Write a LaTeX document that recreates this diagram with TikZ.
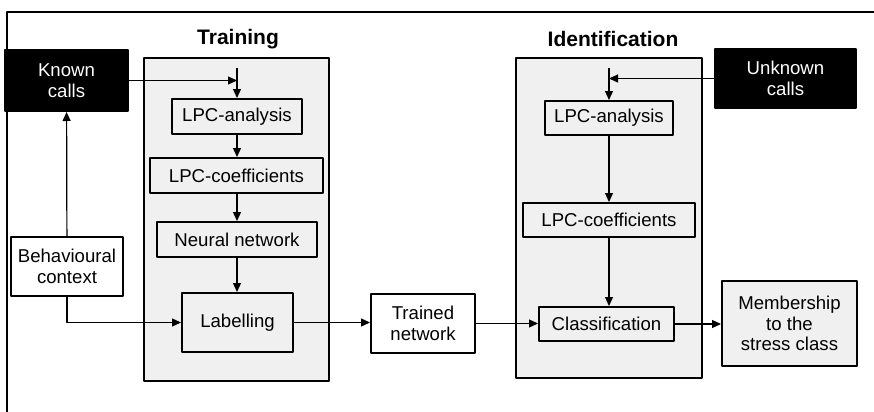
\documentclass[tikz,border=0pt]{standalone}
\usepackage{fontspec}
\setmainfont{Liberation Sans}
\usetikzlibrary{arrows.meta}

\begin{document}
\begin{tikzpicture}[x=0.5pt,y=-0.5pt,font=\fontsize{9.3}{10.25}\selectfont,line join=round,
		>={Triangle[length=4.5pt,width=4pt]},
		arr/.style={->,line width=0.6pt},
		box/.style={draw,line width=1pt,align=center,inner sep=0pt},
		panel/.style={draw,line width=1pt,fill=black!6},
		src/.style={box,fill=black,text=white},
		title/.style={font=\fontsize{10.5}{12}\selectfont\bfseries}]
	\useasboundingbox (0,0) rectangle (874,412);
	\draw[line width=1pt] (7,412) -- (7,12) -- (874,12);
	
	% the two stages
	\draw[panel] (144,58) rectangle (329,381);
	\draw[panel] (516,58) rectangle (702,378);
	\node[title] (ttrain) at (238,39) {Training};
	\node[title] (tident) at (613,39) {Identification};
	
	\node[src,minimum width=61.5pt,minimum height=30.5pt] (known) at (66.5,80.5) {Known\\calls};
	\node[src,minimum width=70.5pt,minimum height=29.5pt] (unknown) at (785.5,78.5) {Unknown\\calls};
	\node[box,fill=white,minimum width=56pt,minimum height=29.5pt] (ctx) at (67,266.5) {Behavioural\\context};
	
	\node[box,minimum width=65pt,minimum height=17.5pt] (lpca1) at (237,116.5) {LPC-analysis};
	\node[box,minimum width=86.5pt,minimum height=17.5pt] (lpcc1) at (236.5,175.5) {LPC-coefficients};
	\node[box,minimum width=80pt,minimum height=17.5pt] (nn) at (237,239.5) {Neural network};
	\node[box,minimum width=55.5pt,minimum height=29.5pt] (label) at (237.5,322.5) {Labelling};
	
	\node[box,fill=white,minimum width=52pt,minimum height=29.5pt] (trained) at (423,323.5) {Trained\\network};
	
	\node[box,minimum width=64pt,minimum height=17pt] (lpca2) at (609,118) {LPC-analysis};
	\node[box,minimum width=86pt,minimum height=17pt] (lpcc2) at (609,220) {LPC-coefficients};
	\node[box,minimum width=67.5pt,minimum height=17pt] (classif) at (606.5,324) {Classification};
	\node[box,fill=black!6,minimum width=67.5pt,minimum height=42.5pt] (member) at (789.5,323.5) {Membership\\to the\\stress class};
	
	\coordinate (tin) at (237,68);
	\coordinate (iin) at (609,68);
	
	% training path
	\draw[arr] (known) -- (known -| tin);
	\draw[arr] (tin) -- (lpca1);
	\draw[arr] (lpca1) -- (lpca1 |- lpcc1.north);
	\draw[arr] (lpcc1.south -| nn) -- (nn);
	\draw[arr] (nn) -- (nn |- label.north);
	\draw[arr] (ctx) -- (known);
	\draw[arr] (ctx.south) |- (label);
	\draw[arr] (label) -- (label -| trained.west);
	
	% identification path
	\draw[arr] (unknown) -- (unknown -| iin);
	\draw[arr] (iin) -- (lpca2);
	\draw[arr] (lpca2) -- (lpcc2);
	\draw[arr] (lpcc2) -- (lpcc2 |- classif.north);
	\draw[arr] (trained) -- (trained -| classif.west);
	\draw[arr] (classif) -- (classif -| member.west);
\end{tikzpicture}
\end{document}
